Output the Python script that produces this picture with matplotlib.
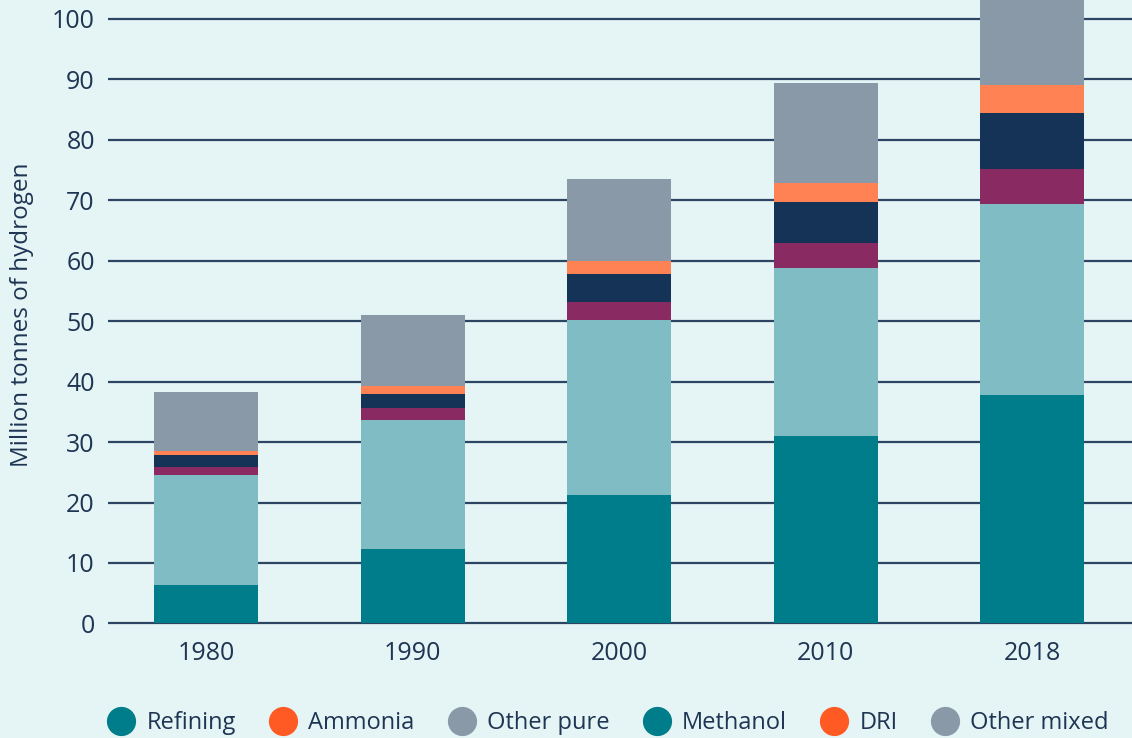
import matplotlib
matplotlib.use("Agg")
import matplotlib.pyplot as plt
from matplotlib.lines import Line2D

years = ["1980", "1990", "2000", "2010", "2018"]
refining = [6.4, 12.3, 21.3, 31.0, 37.8]
ammonia = [18.1, 21.4, 28.9, 27.8, 31.6]
other_pure = [1.45, 2.0, 3.0, 4.1, 5.8]
methanol = [1.95, 2.3, 4.6, 6.8, 9.25]
dri = [0.7, 1.3, 2.2, 3.1, 4.65]
other_mixed = [9.7, 11.7, 13.5, 16.6, 26.0]

legend_labels = ["Refining", "Ammonia", "Other pure", "Methanol", "DRI", "Other mixed"]

BG = "#e5f4f5"
TXT = "#1e3553"
plt.rcParams["font.family"] = ["Open Sans", "DejaVu Sans"]

W, H = 1132, 738
fig = plt.figure(figsize=(W / 100, H / 100), dpi=100, facecolor=BG)
# axes placed in pixel terms: y=0 sits at 623.5 px, top of figure ~103
ax = fig.add_axes([108 / W, 1 - 629.5 / H, 1 - 108 / W, 629.5 / H], facecolor=BG)

series = [refining, ammonia, other_pure, methanol, dri, other_mixed]
bar_colors = ["#007d8a", "#80bcc4", "#8a2a63", "#153356", "#ff8254", "#8a99a8"]
x = range(len(years))
bottom = [0] * len(years)
for vals, col in zip(series, bar_colors):
    ax.bar(x, vals, bottom=bottom, width=0.504, color=col, zorder=3)
    bottom = [b + v for b, v in zip(bottom, vals)]

ax.set_xlim(-0.475, 4.484)
ax.set_ylim(-1, 103.1)
ax.set_yticks(range(0, 101, 10))
ax.set_xticks(list(x))
ax.set_xticklabels(years)
ax.yaxis.grid(True, color="#2b4562", linewidth=1.6, zorder=1)
ax.tick_params(length=0, labelsize=18, colors=TXT)
ax.tick_params(axis="y", pad=9.5)
ax.tick_params(axis="x", pad=8)
for s in ax.spines.values():
    s.set_visible(False)
ax.set_ylabel("Million tonnes of hydrogen", fontsize=17.5, color=TXT, labelpad=13)

leg_colors = ["#007d8a", "#ff5a23", "#8a99a8", "#007d8a", "#ff5a23", "#8a99a8"]
handles = [Line2D([], [], marker="o", linestyle="", markersize=20, color=c) for c in leg_colors]
fig.legend(handles, legend_labels, loc="center left", bbox_to_anchor=(107 / W, 1 - 723 / H),
           ncol=6, frameon=False, fontsize=17, labelcolor=TXT, handletextpad=0.47,
           columnspacing=1.4, handlelength=1.2, borderpad=0, borderaxespad=0)

fig.savefig("out.png", dpi=100, facecolor=BG)
